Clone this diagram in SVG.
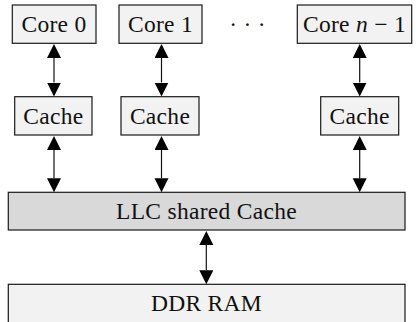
<svg xmlns="http://www.w3.org/2000/svg" width="416" height="322" viewBox="0 0 416 322">
<defs>
<style>
.box{fill:#f2f2f2;stroke:#1a1a1a;stroke-width:1.2}
.llc{fill:#d9d9d9;stroke:#1a1a1a;stroke-width:1.2}
.lbl{font-family:"Liberation Serif","DejaVu Serif",serif;font-size:23.5px;fill:#111;text-anchor:middle;letter-spacing:0.3px}
.conn{stroke:#111;stroke-width:1.2;fill:none;marker-start:url(#ah);marker-end:url(#ah)}
</style>
<marker id="ah" markerUnits="userSpaceOnUse" markerWidth="15" markerHeight="15" refX="0" refY="7" orient="auto-start-reverse" viewBox="0 0 15 15">
<path d="M0,0 L14,7 L0,14 z" fill="#000"/>
</marker>
</defs>
<rect width="416" height="322" fill="#fff"/>
<g id="core0"><rect class="box" x="12.3" y="5" width="83.7" height="38.3"/><text class="lbl" x="54" y="32">Core 0</text></g>
<g id="core1"><rect class="box" x="119" y="5" width="83" height="38.3"/><text class="lbl" x="160.5" y="32">Core 1</text></g>
<g id="dots"><text class="lbl" x="247.5" y="32">· · ·</text></g>
<g id="coren"><rect class="box" x="297.3" y="5" width="114.4" height="38.3"/><text class="lbl" x="354.5" y="32">Core <tspan font-style="italic">n</tspan> − 1</text></g>
<g id="cache0"><rect class="box" x="14.7" y="96.7" width="77.3" height="38.3"/><text class="lbl" x="53.4" y="124">Cache</text></g>
<g id="cache1"><rect class="box" x="121" y="96.7" width="78" height="38.3"/><text class="lbl" x="160" y="124">Cache</text></g>
<g id="cachen"><rect class="box" x="320.7" y="96.7" width="78" height="38.3"/><text class="lbl" x="359.7" y="124">Cache</text></g>
<g id="llc"><rect class="llc" x="8.3" y="192.3" width="396.7" height="37.7"/><text class="lbl" x="206.5" y="219">LLC shared Cache</text></g>
<g id="ddr"><rect class="box" x="8.3" y="284.3" width="396.7" height="38.5"/><text class="lbl" x="206.5" y="311">DDR RAM</text></g>
<g id="connectors">
<path class="conn" d="M54,58 V82.5"/>
<path class="conn" d="M161.5,58 V82.5"/>
<path class="conn" d="M359.7,58 V82.5"/>
<path class="conn" d="M54,150 V178.3"/>
<path class="conn" d="M161.5,150 V178.3"/>
<path class="conn" d="M359.7,150 V178.3"/>
<path class="conn" d="M206.3,245 V270.3"/>
</g>
</svg>
